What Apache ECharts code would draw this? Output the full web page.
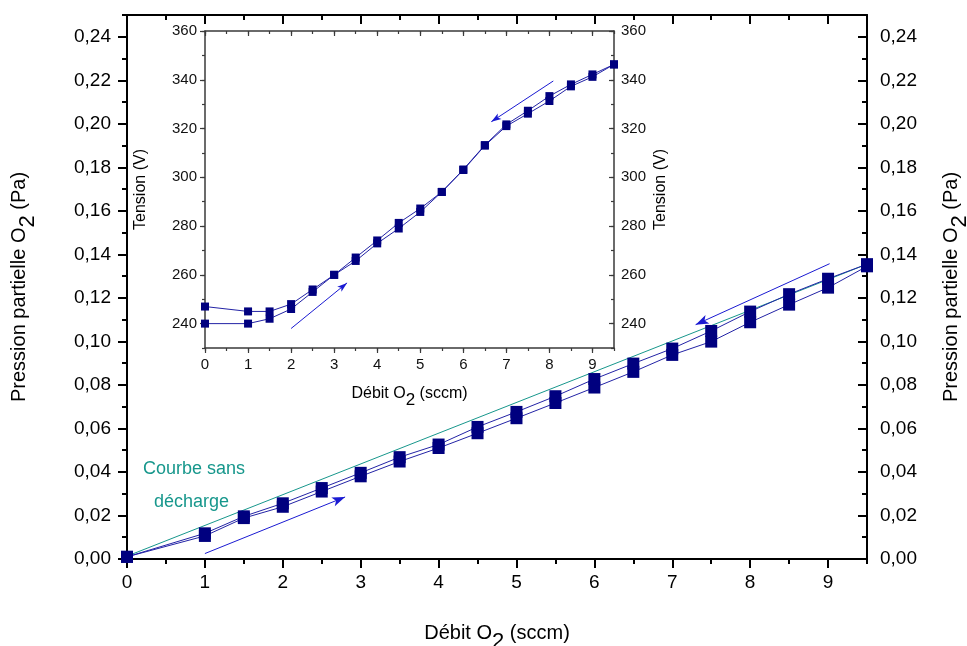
<!DOCTYPE html>
<html><head><meta charset="utf-8">
<script src="https://cdn.jsdelivr.net/npm/echarts@6/dist/echarts.min.js"></script>
<style>html,body{margin:0;padding:0;background:#fff}#c{width:967px;height:646px}</style>
</head><body><div id="c"></div>
<script>
// ---- data ----
const flow = [0,1,1.5,2,2.5,3,3.5,4,4.5,5,5.5,6,6.5,7,7.5,8,8.5,9,9.5];
const pressureUp   = [0.001,0.0106,0.0188,0.0240,0.0310,0.0380,0.0448,0.0510,0.0578,0.0647,0.0717,0.0788,0.0860,0.0938,0.0999,0.1088,0.1169,0.1247,0.1345];
const pressureDown = [0.001,0.0118,0.0196,0.0256,0.0326,0.0396,0.0468,0.0526,0.0607,0.0676,0.0748,0.0827,0.0898,0.0967,0.1048,0.1137,0.1217,0.1288,0.1355];
const noDischargeFlow = [0, 9.5];
const noDischargeP    = [0.0013, 0.1355];
const tensionUp   = [240,240,242,246,253,260,265.7,272.9,279,285.8,294,303,313,321,326.1,331.3,337.3,341.2,346.3];
const tensionDown = [247,245,245,248,254,260,267.1,274.1,281.3,287.2,294,303.2,313.2,321.7,327.3,333.3,338.1,342.2,346.3];
const mainXTicks  = [0,1,2,3,4,5,6,7,8,9];
const mainYTicks  = [0,0.02,0.04,0.06,0.08,0.10,0.12,0.14,0.16,0.18,0.20,0.22,0.24];
const insetXTicks = [0,1,2,3,4,5,6,7,8,9];
const insetYTicks = [240,260,280,300,320,340,360];
const mainArrowUp   = [[1.0,0.0025],[2.8,0.0285]];
const mainArrowDown = [[9.02,0.1357],[7.3,0.1077]];
const insetArrowUp   = [[2.0,238],[3.3,256.7]];
const insetArrowDown = [[8.09,339.5],[6.65,322.8]];
const annotation = ['Courbe sans','décharge'];

// ---- styles ----
const FONT = 'Liberation Sans, Arial, sans-serif';
const LINE_C = '#2323a6', MARK_C = '#00007f', ARROW_C = '#1a1ad2', TEAL = '#17978c';

function richName(pre, post, size, subSize, shift){
  return {
    text: '{a|' + pre + '}{b|2}{a|' + post + '}',
    style: {fontFamily: FONT, fontSize: size, color:'#000',
      rich: {
        a: {fontFamily: FONT, fontSize: size, color:'#000', verticalAlign:'top'},
        b: {fontFamily: FONT, fontSize: subSize, color:'#000', verticalAlign:'top', padding:[shift,0,0,0]}
      }}
  };
}

function axisPair(grid, position, min, max, majors, minorStep, o){
  const major = {
    type:'value', gridIndex: grid, position, min, max, interval: minorStep,
    axisLine:{show:true, onZero:false, lineStyle:{color:o.lineColor, width:o.lineWidth}},
    axisTick:{show:true, inside:o.inside, length:o.majorLen, customValues: majors, lineStyle:{color:o.lineColor, width:o.tickWidth}},
    axisLabel:{show:!!o.labels, customValues: majors, margin:o.margin || 8, fontSize:o.fontSize, fontFamily:FONT, color:o.labelColor || '#000',
      formatter: o.formatter || (v => String(v))},
    splitLine:{show:false}
  };
  if (o.name) {
    major.name = o.name.text;
    major.nameLocation = 'middle';
    major.nameGap = o.nameGap;
    major.nameTextStyle = o.name.style;
  }
  const minor = {
    type:'value', gridIndex: grid, position, min, max, interval: minorStep,
    axisLine:{show:false, onZero:false},
    axisTick:{show:true, inside:o.inside, length:o.minorLen, lineStyle:{color:o.lineColor, width:o.tickWidth}},
    axisLabel:{show:false}, splitLine:{show:false}
  };
  return [major, minor];
}

const pFmt = v => v.toFixed(2).replace('.', ',');
const mainStyle = {lineColor:'#000', lineWidth:2, tickWidth:2, majorLen:9, minorLen:5, fontSize:19};
const insetStyle = {lineColor:'#3a3a3a', lineWidth:1.5, tickWidth:1.2, majorLen:5, minorLen:3, fontSize:15, labelColor:'#111'};
const tensionName = {text:'Tension (V)', style:{fontFamily:FONT,fontSize:16,color:'#000'}};

const xAxes = [
  ...axisPair(0,'bottom',0,9.5,mainXTicks,0.5,{...mainStyle, inside:false, labels:true, margin:14,
      name: richName('Débit O',' (sccm)',20,22,8), nameGap:64}),
  ...axisPair(0,'top',0,9.5,mainXTicks,0.5,{...mainStyle, inside:true, labels:false}),
  ...axisPair(1,'bottom',0,9.5,insetXTicks,0.5,{...insetStyle, inside:false, labels:true, margin:9,
      name: richName('Débit O',' (sccm)',16,17,6), nameGap:38}),
  ...axisPair(1,'top',0,9.5,insetXTicks,0.5,{...insetStyle, inside:true, labels:false})
];
const yAxes = [
  ...axisPair(0,'left',0,0.25,mainYTicks,0.01,{...mainStyle, inside:false, labels:true, margin:16, formatter:pFmt,
      name: richName('Pression partielle O',' (Pa)',20,22,8), nameGap:88}),
  ...axisPair(0,'right',0,0.25,mainYTicks,0.01,{...mainStyle, inside:true, labels:true, margin:13, formatter:pFmt,
      name: richName('Pression partielle O',' (Pa)',20,22,8), nameGap:74}),
  ...axisPair(1,'left',230,360,insetYTicks,10,{...insetStyle, inside:false, labels:true, margin:8,
      name: tensionName, nameGap:56}),
  ...axisPair(1,'right',230,360,insetYTicks,10,{...insetStyle, inside:true, labels:true, margin:7,
      name: tensionName, nameGap:39})
];

function pairs(xs, ys){ return xs.map((x,i)=>[x, ys[i]]); }
function arrow(coords, size){
  return {silent:true, symbol:['none','arrow'], symbolSize:size, label:{show:false},
    lineStyle:{type:'solid', color:ARROW_C, width:1}, emphasis:{disabled:true},
    data:[[{coord:coords[0]},{coord:coords[1]}]]};
}
function dataSeries(name, xi, yi, data, size, arrowCoords, arrowSize){
  return {name, type:'line', xAxisIndex:xi, yAxisIndex:yi, data,
    symbol:'rect', symbolSize:size, showSymbol:true,
    lineStyle:{color:LINE_C, width:1}, itemStyle:{color:MARK_C},
    emphasis:{disabled:true}, animation:false,
    markLine: arrow(arrowCoords, arrowSize)};
}

const option = {
  animation:false,
  backgroundColor:'#fff',
  grid:[
    {left:127, top:15, width:740, height:544, containLabel:false, outerBoundsMode:'none'},
    {left:205, top:31, width:409, height:317, containLabel:false, outerBoundsMode:'none'}
  ],
  xAxis: xAxes,
  yAxis: yAxes,
  series:[
    {name:'Courbe sans décharge', type:'line', xAxisIndex:0, yAxisIndex:0,
     data: pairs(noDischargeFlow, noDischargeP), symbol:'none',
     lineStyle:{color:TEAL, width:1}, emphasis:{disabled:true}},
    dataSeries('P montée', 0, 0, pairs(flow, pressureUp), 12, mainArrowUp, [7,13]),
    dataSeries('P descente', 0, 0, pairs(flow, pressureDown), 12, mainArrowDown, [7,13]),
    dataSeries('U montée', 4, 4, pairs(flow, tensionUp), 8, insetArrowUp, [5,10]),
    dataSeries('U descente', 4, 4, pairs(flow, tensionDown), 8, insetArrowDown, [5,10])
  ],
  graphic:[
    {type:'text', left:143, top:460, style:{text:annotation[0], fontFamily:FONT, fontSize:18, fill:TEAL}},
    {type:'text', left:154, top:493, style:{text:annotation[1], fontFamily:FONT, fontSize:18, fill:TEAL}}
  ]
};
const chart = echarts.init(document.getElementById('c'), null, {renderer:'canvas'});
chart.setOption(option);
</script>
</body></html>
